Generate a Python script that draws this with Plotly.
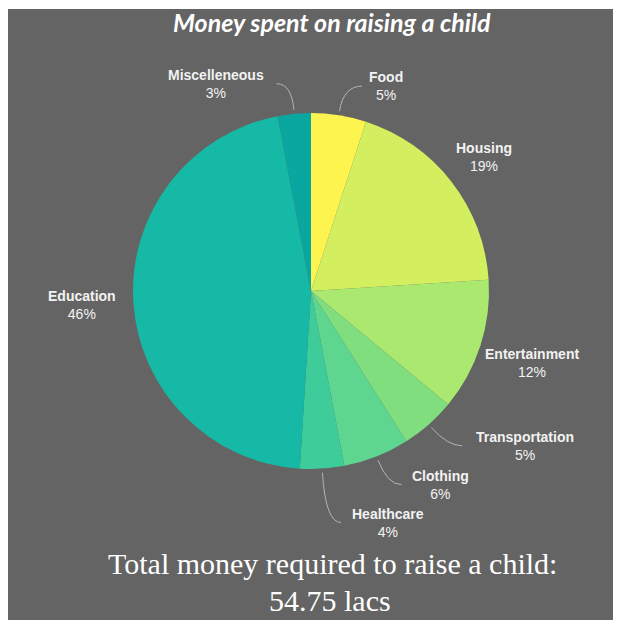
import math
import plotly.graph_objects as go

# ---- data ----
categories = ["Food", "Housing", "Entertainment", "Transportation",
              "Clothing", "Healthcare", "Education", "Miscelleneous"]
percent = [5, 19, 12, 5, 6, 4, 46, 3]
colors = ["#fdf44f", "#d3ef5f", "#aae870", "#80de7f",
          "#5ed690", "#3ecc9b", "#16b9a5", "#0aa6a0"]
title_text = "Money spent on raising a child"
footer_lines = ["Total money required to raise a child:", "54.75 lacs"]

# ---- layout parameters (pixels) ----
W, H = 621, 620
CX, CY, R = 311, 291, 178
# per-label angular shift (deg) and radial distance for label placement
label_adj = {
    "Food": (11, 218), "Housing": (0, 219), "Entertainment": (0, 232),
    "Transportation": (-12.7, 264), "Clothing": (-12.2, 233),
    "Healthcare": (-14.8, 244), "Education": (0, 229), "Miscelleneous": (-19.2, 228),
}


def px(x):
    return x / W


def py(y):
    return 1 - y / H


def polar(angle_deg, r):
    a = math.radians(angle_deg)
    return CX + r * math.sin(a), CY - r * math.cos(a)


fig = go.Figure()
fig.add_trace(go.Pie(
    labels=categories, values=percent, sort=False, direction="clockwise",
    rotation=0, marker=dict(colors=colors, line=dict(width=0)),
    textinfo="none", hoverinfo="skip", showlegend=False,
    domain=dict(x=[px(CX - R), px(CX + R)], y=[py(CY + R), py(CY - R)]),
))

shapes = [dict(type="rect", xref="paper", yref="paper", layer="below",
               x0=px(8), x1=px(613), y0=py(620), y1=py(9),
               fillcolor="#646464", line=dict(width=0))]
annotations = []

total = sum(percent)
cum = 0
for name, val in zip(categories, percent):
    mid = (cum + val / 2) / total * 360
    cum += val
    dA, rl = label_adj[name]
    lx, ly = polar(mid + dA, rl)
    annotations.append(dict(
        x=px(lx), y=py(ly), xref="paper", yref="paper", showarrow=False,
        xanchor="center", yanchor="middle",
        text=f"<b>{name}</b><br>{val}%",
        font=dict(family="Liberation Sans, Arial, sans-serif", size=14, color="#f2f2f2"),
    ))
    if val < 10:
        sx, sy = polar(mid, R + 4)
        half_w = len(name) * 7.8 / 2
        if lx >= CX:
            ex = lx - half_w - 8
        else:
            ex = lx + half_w + 10
        ey = ly
        dy = math.cos(math.radians(mid))
        # control point: along the radial direction at the end's vertical level
        rc = (CY - ey) / dy if abs(dy) > 1e-6 else R + 20
        qx, qy = polar(mid, rc)
        path = (f"M {px(sx)},{py(sy)} Q {px(qx)},{py(qy)} {px(ex)},{py(ey)}")
        shapes.append(dict(type="path", xref="paper", yref="paper", path=path,
                           line=dict(color="#b4b4b4", width=1)))

annotations.append(dict(
    x=px(332), y=py(22), xref="paper", yref="paper", showarrow=False,
    xanchor="center", yanchor="middle",
    text=f"<b><i>{title_text}</i></b>",
    font=dict(family="Lato, Open Sans, sans-serif", size=25, color="#ffffff"),
))
annotations.append(dict(
    x=px(332), y=py(563), xref="paper", yref="paper", showarrow=False,
    xanchor="center", yanchor="middle", text=footer_lines[0],
    font=dict(family="Liberation Serif, DejaVu Serif, serif", size=30, color="#ffffff"),
))
annotations.append(dict(
    x=px(330), y=py(600), xref="paper", yref="paper", showarrow=False,
    xanchor="center", yanchor="middle", text=footer_lines[1],
    font=dict(family="Liberation Serif, DejaVu Serif, serif", size=30, color="#ffffff"),
))

fig.update_layout(
    width=W, height=H, margin=dict(l=0, r=0, t=0, b=0),
    paper_bgcolor="#ffffff", plot_bgcolor="#ffffff",
    shapes=shapes, annotations=annotations, showlegend=False,
)

fig.write_html("out.html", config={"displayModeBar": False})
